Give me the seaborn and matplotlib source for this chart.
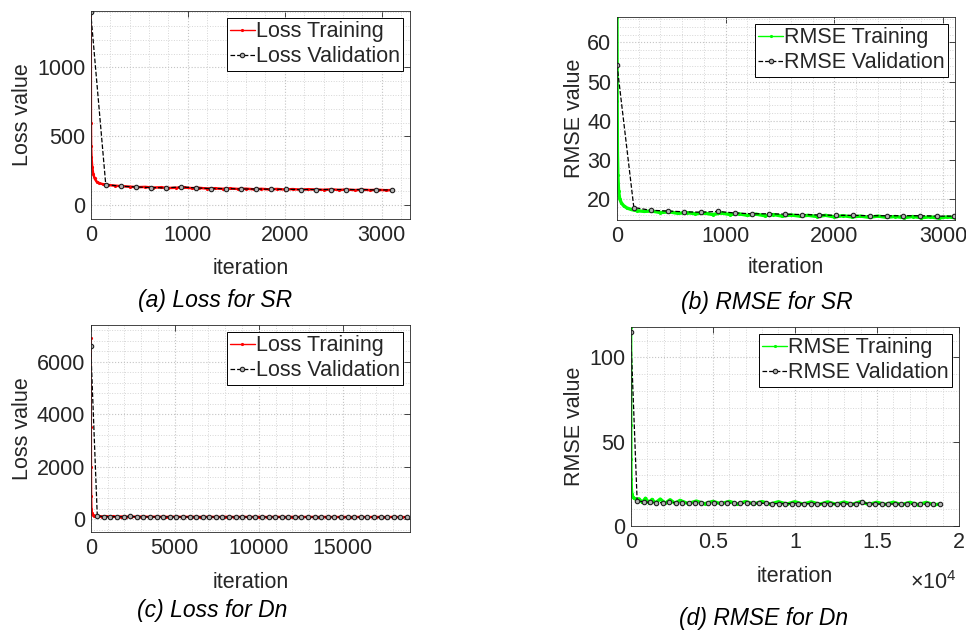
import matplotlib
matplotlib.use('Agg')
import matplotlib.pyplot as plt
from matplotlib.ticker import MultipleLocator, FuncFormatter
import seaborn as sns

sns.set_style('white')
plt.rcParams['font.family'] = ['Liberation Sans', 'DejaVu Sans']
plt.rcParams['mathtext.fontset'] = 'custom'
plt.rcParams['mathtext.rm'] = 'Liberation Sans'

# ---- SR run (about 3110 iterations, validation every 155) ----
it_train_sr = [0, 2, 4, 8, 15, 25, 40, 60, 90, 130, 180, 250, 320, 400, 480, 560,
               640, 720, 800, 880, 960, 1040, 1120, 1200, 1280, 1360, 1440, 1520,
               1600, 1680, 1760, 1840, 1920, 2000, 2080, 2160, 2240, 2320, 2400,
               2480, 2560, 2640, 2720, 2800, 2880, 2960, 3040, 3110]
loss_train_sr = [1410, 600, 430, 350, 280, 230, 195, 172, 160, 152, 147, 142, 138,
                 135, 131, 133, 128, 130, 125, 127, 129, 124, 126, 121, 123, 119,
                 122, 118, 120, 116, 119, 115, 118, 114, 117, 113, 116, 114, 112,
                 115, 111, 114, 110, 113, 110, 112, 109, 110]
rmse_train_sr = [66.5, 45, 32, 26, 22, 20, 19, 18.3, 17.7, 17.3, 17.0, 16.8, 16.9,
                 16.5, 16.7, 16.3, 16.5, 16.2, 16.4, 16.0, 16.4, 16.0, 16.2, 15.8,
                 16.1, 15.7, 16.0, 15.6, 15.9, 15.6, 15.8, 15.5, 15.8, 15.4, 15.7,
                 15.4, 15.6, 15.3, 15.6, 15.3, 15.5, 15.2, 15.5, 15.2, 15.4, 15.1,
                 15.4, 15.2]

it_val_sr = [0, 155, 310, 465, 620, 775, 930, 1085, 1240, 1395, 1550, 1705, 1860,
             2015, 2170, 2325, 2480, 2635, 2790, 2945, 3100]
loss_val_sr = [1400, 150, 138, 133, 128, 126, 133, 126, 121, 121, 118, 118, 116,
               116, 114, 114, 114, 114, 114, 111, 111]
rmse_val_sr = [54.3, 17.8, 17.1, 16.9, 16.7, 16.6, 16.8, 16.4, 16.2, 16.2, 16.1,
               16.0, 15.9, 15.8, 15.8, 15.7, 15.7, 15.7, 15.7, 15.6, 15.6]

# ---- Dn run (about 18800 iterations, validation every 392) ----
it_train_dn = [0, 5, 10, 20, 40, 70, 100, 150, 200, 300, 400, 500, 700, 900, 1100,
               1300, 1500, 1800, 2100, 2400, 2700, 3000, 3500, 4000, 4500, 5000,
               5500, 6000, 6500, 7000, 7500, 8000, 8500, 9000, 9500, 10000, 10500,
               11000, 11500, 12000, 12500, 13000, 13500, 14000, 14500, 15000,
               15500, 16000, 16500, 17000, 17500, 18000, 18500, 18816]
loss_train_dn = [6900, 3500, 2000, 900, 400, 250, 190, 160, 145, 130, 120, 115, 108,
                 112, 104, 110, 101, 106, 99, 108, 97, 103, 95, 100, 93, 98, 92, 97,
                 91, 96, 90, 95, 89, 94, 89, 93, 88, 93, 88, 92, 87, 92, 87, 91, 86,
                 91, 86, 90, 85, 90, 85, 89, 84, 86]
rmse_train_dn = [118, 60, 40, 28, 22, 19, 18, 17, 16.5, 16, 15.5, 16.2, 14.0, 16.5,
                 13.8, 15.8, 13.6, 16.0, 13.5, 15.6, 13.4, 15.2, 13.3, 14.8, 13.2,
                 14.6, 13.2, 14.6, 13.1, 14.5, 13.1, 14.5, 13.0, 14.4, 13.0, 14.4,
                 13.0, 14.3, 12.9, 14.3, 12.9, 14.2, 12.9, 14.4, 12.8, 14.1, 12.8,
                 14.1, 12.7, 14.0, 12.7, 14.0, 12.6, 13.0]

it_val_dn = [0, 392, 784, 1176, 1568, 1960, 2352, 2744, 3136, 3528, 3920, 4312,
             4704, 5096, 5488, 5880, 6272, 6664, 7056, 7448, 7840, 8232, 8624,
             9016, 9408, 9800, 10192, 10584, 10976, 11368, 11760, 12152, 12544,
             12936, 13328, 13720, 14112, 14504, 14896, 15288, 15680, 16072, 16464,
             16856, 17248, 17640, 18032, 18424, 18816]
loss_val_dn = [6600, 125, 108, 104, 101, 99, 110, 97, 96, 95, 94, 94, 93, 93, 92,
               92, 91, 91, 91, 90, 90, 90, 89, 89, 89, 88, 88, 88, 88, 87, 87, 87,
               87, 86, 86, 86, 95, 86, 85, 85, 85, 85, 84, 84, 84, 84, 84, 83, 83]
rmse_val_dn = [115.2, 15.0, 14.3, 14.0, 13.9, 13.8, 14.5, 13.7, 13.7, 13.6, 13.6,
               13.6, 13.5, 13.5, 13.5, 13.5, 13.4, 13.4, 13.4, 13.4, 13.5, 13.4,
               13.3, 13.3, 13.3, 13.3, 13.3, 13.2, 13.2, 13.2, 13.2, 13.2, 13.1,
               13.1, 13.1, 13.1, 14.2, 13.1, 13.0, 13.0, 13.0, 13.0, 13.0, 13.0,
               12.9, 12.9, 12.9, 12.9, 12.9]

FS = 15.5
TXT = '#262626'


def draw(ax, it_tr, tr, it_val, val, color, name, lw):
    sns.lineplot(x=it_tr, y=tr, ax=ax, color=color, lw=lw, marker='.', ms=3,
                 mec=color, label=name + ' Training', sort=False, estimator=None)
    sns.lineplot(x=it_val, y=val, ax=ax, color='k', lw=0.9, linestyle='--',
                 marker='o', ms=3.2, mfc='#b4b4b4', mec='#202020', mew=0.8,
                 label=name + ' Validation', sort=False, estimator=None)
    leg = ax.legend(loc='upper right', fontsize=FS, frameon=True, fancybox=False,
                    edgecolor='k', framealpha=1, borderpad=0.15, labelspacing=0.2,
                    handlelength=1.15, handletextpad=0.05, borderaxespad=0.32)
    leg.get_frame().set_linewidth(0.7)
    leg.get_lines()[0].set_linewidth(1.0)


def style(ax, xmaj, xmin, ymaj, ymin, xlim, ylim, ylabel, ylab_x, xlab_y):
    ax.set_xlim(*xlim)
    ax.set_ylim(*ylim)
    ax.xaxis.set_major_locator(MultipleLocator(xmaj))
    ax.xaxis.set_minor_locator(MultipleLocator(xmin))
    ax.yaxis.set_major_locator(MultipleLocator(ymaj))
    ax.yaxis.set_minor_locator(MultipleLocator(ymin))
    ax.grid(which='major', color='#c4c4c4', ls=':', lw=0.8)
    ax.grid(which='minor', color='#d6d6d6', ls=':', lw=0.7)
    ax.set_axisbelow(True)
    ax.tick_params(which='both', direction='in', top=True, right=True)
    ax.tick_params(which='major', length=4, width=0.6, color=TXT,
                   labelsize=FS, labelcolor=TXT, pad=4)
    ax.tick_params(which='minor', length=0)
    for sp in ax.spines.values():
        sp.set_color(TXT)
        sp.set_linewidth(0.6)
    ax.set_ylabel(ylabel, fontsize=FS, color=TXT)
    ax.set_xlabel('iteration', fontsize=FS, color=TXT)
    ax.yaxis.set_label_coords(ylab_x, 0.5)
    ax.xaxis.label.set_va('center')
    ax.xaxis.set_label_coords(0.5, xlab_y)


fig = plt.figure(figsize=(9.66, 6.33), dpi=100)
ax_a = fig.add_axes([0.0939, 0.654, 0.3305, 0.3286])
ax_b = fig.add_axes([0.6387, 0.6524, 0.3499, 0.3207])
ax_c = fig.add_axes([0.0939, 0.1596, 0.3305, 0.327])
ax_d = fig.add_axes([0.6529, 0.169, 0.3399, 0.3144])

draw(ax_a, it_train_sr, loss_train_sr, it_val_sr, loss_val_sr, '#ff0000', 'Loss', 1.8)
style(ax_a, 1000, 200, 500, 100, (0, 3290), (-100, 1410), 'Loss value', -0.181, -0.236)

draw(ax_b, it_train_sr, rmse_train_sr, it_val_sr, rmse_val_sr, '#00ff00', 'RMSE', 2.4)
style(ax_b, 1000, 200, 10, 2, (0, 3110), (14.6, 66.5), 'RMSE value', -0.096, -0.236)

draw(ax_c, it_train_dn, loss_train_dn, it_val_dn, loss_val_dn, '#ff0000', 'Loss', 1.8)
style(ax_c, 5000, 1000, 2000, 400, (0, 19000), (-480, 7400), 'Loss value', -0.181, -0.246)

draw(ax_d, it_train_dn, rmse_train_dn, it_val_dn, rmse_val_dn, '#00ff00', 'RMSE', 2.4)
style(ax_d, 5000, 1000, 50, 10, (0, 20000), (0, 118), 'RMSE value', -0.138, -0.256)
ax_d.xaxis.set_major_formatter(FuncFormatter(lambda v, p: f'{v / 1e4:g}'))
fig.text(933 / 966, 1 - 583 / 633, r'$\times10^{4}$', fontsize=FS, color=TXT,
         ha='center', va='center')

captions = ['(a) Loss for SR', '(b) RMSE for SR', '(c) Loss for Dn', '(d) RMSE for Dn']
cap_pos = [(215, 300), (767, 302), (212, 611), (764, 618)]
for cap, (cx, cy) in zip(captions, cap_pos):
    fig.text(cx / 966, 1 - cy / 633, cap, fontsize=16.5, style='italic',
             color='k', ha='center', va='center')

fig.savefig('out.png', dpi=100)
